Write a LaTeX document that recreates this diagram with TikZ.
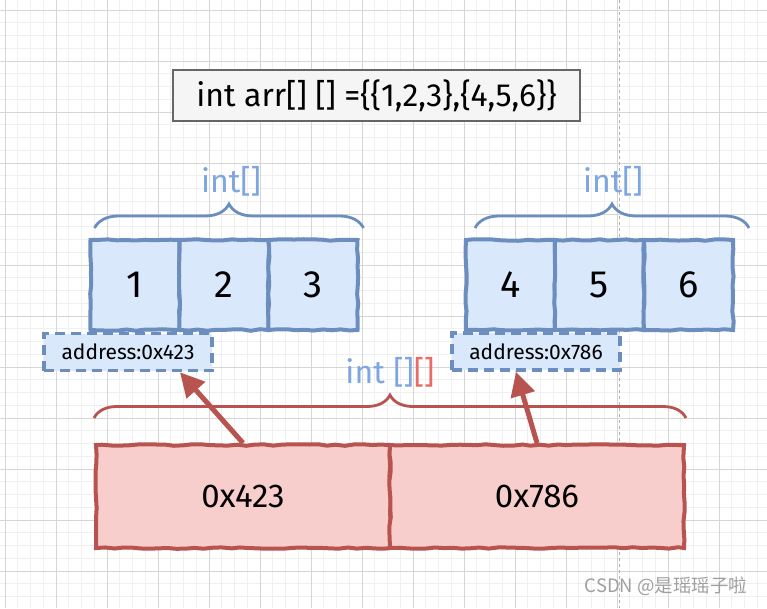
\documentclass[tikz,border=0pt]{standalone}
\usepackage{fontspec}
\setmainfont{Fira Sans}
\newfontfamily\cjk{Noto Sans CJK SC}
\usepackage{xcolor}
\usetikzlibrary{arrows.meta,decorations.pathreplacing,decorations.pathmorphing}

\definecolor{bluefill}{HTML}{DAE8FC}
\definecolor{bluestroke}{HTML}{6C8EBF}
\definecolor{bluetext}{HTML}{7EA6E0}
\definecolor{redfill}{HTML}{F8CECC}
\definecolor{redstroke}{HTML}{B85450}
\definecolor{redtext}{HTML}{EA6B66}
\definecolor{gridminor}{HTML}{F0F0F0}
\definecolor{gridmajor}{HTML}{D6D6D6}

\begin{document}
\begin{tikzpicture}[x=1pt, y=-1pt,
    sketch/.style={decorate, decoration={random steps, segment length=9pt, amplitude=0.8pt}},
    bluecell/.style={draw=bluestroke, fill=bluefill, line width=4pt, minimum width=89pt, minimum height=90pt, inner sep=0pt, font=\fontsize{38}{42}\selectfont},
    redcell/.style={draw=redstroke, fill=redfill, line width=4pt, minimum width=294pt, minimum height=103pt, inner sep=0pt, font=\fontsize{33}{38}\selectfont},
    addrbox/.style={draw=bluestroke, fill=bluefill, line width=3.6pt, dash pattern=on 10pt off 6pt, minimum width=168pt, minimum height=37pt, inner sep=0pt, font=\fontsize{21}{24}\selectfont},
    brace/.style={decorate, decoration={brace, amplitude=#1}, line width=2.8pt},
    lbl/.style={text=bluetext, font=\fontsize{32}{36}\selectfont},
    ptr/.style={-{Triangle[length=24pt,width=24pt]}, draw=redstroke, line width=5pt}]
				% Background and grid
				\useasboundingbox (0,0) rectangle (767,608);
				\fill[white] (0,0) rectangle (767,608);
				\foreach \k in {0,...,59} \draw[gridminor, line width=1pt] ({5+12.75*\k},0) -- ({5+12.75*\k},608);
				\foreach \k in {0,...,46} \draw[gridminor, line width=1pt] (0,{10+12.75*\k}) -- (767,{10+12.75*\k});
				\foreach \k in {0,...,14} \draw[gridmajor, line width=1pt] ({5+51*\k},0) -- ({5+51*\k},608);
				\foreach \k in {0,...,11} \draw[gridmajor, line width=1pt] (0,{10+51*\k}) -- (767,{10+51*\k});
				\draw[gray!60, dashed, line width=1pt] (619,0) -- (619,608);
				
				% Declaration
				\node[draw=gray!80!black, fill=gray!8, line width=1.6pt, minimum width=407pt, minimum height=51pt, font=\fontsize{32}{36}\selectfont] (decl) at (376.5,95.5) {int arr[] [] =\{\{1,2,3\},\{4,5,6\}\}};
				
				% First row
				\node[bluecell, sketch] (a1) at (135,285) {1};
				\node[bluecell, sketch] (a2) at (224,285) {2};
				\node[bluecell, sketch] (a3) at (313,285) {3};
				\draw[brace=24pt, draw=bluestroke] ([xshift=6pt,yshift=10pt]a1.north west) -- ([xshift=4pt,yshift=10pt]a3.north east);
				\node[lbl] (t1) at (231,181) {int[]};
				\node[addrbox] (addr1) at (128,352) {address:0x423};
				
				% Second row
				\node[bluecell, sketch] (b1) at (510.5,285) {4};
				\node[bluecell, sketch] (b2) at (599.5,285) {5};
				\node[bluecell, sketch] (b3) at (688.5,285) {6};
				\draw[brace=24pt, draw=bluestroke] ([xshift=11pt,yshift=10pt]b1.north west) -- ([xshift=14pt,yshift=10pt]b3.north east);
				\node[lbl] (t2) at (613,181) {int[]};
				\node[addrbox] (addr2) at (536,351.5) {address:0x786};
				
				% Outer array
				\node[redcell, sketch] (p1) at (243,496.5) {0x423};
				\node[redcell, sketch] (p2) at (537,496.5) {0x786};
				\draw[brace=23pt, draw=redstroke] ([yshift=25pt]p1.north west) -- ([yshift=25pt]p2.north east);
				\node[lbl] (t3) at (390,372) {int []\textcolor{redtext}{[]}};
				
				% References
				\draw[ptr] (p1.north) -- ([xshift=52pt]addr1.south);
				\draw[ptr] (p2.north) -- ([xshift=-20pt]addr2.south);
				
				\node[text=gray!75, font=\cjk\fontsize{18.5}{22}\selectfont] (mark) at (666,586) {CSDN @是瑶瑶子啦};
			\end{tikzpicture}
\end{document}
